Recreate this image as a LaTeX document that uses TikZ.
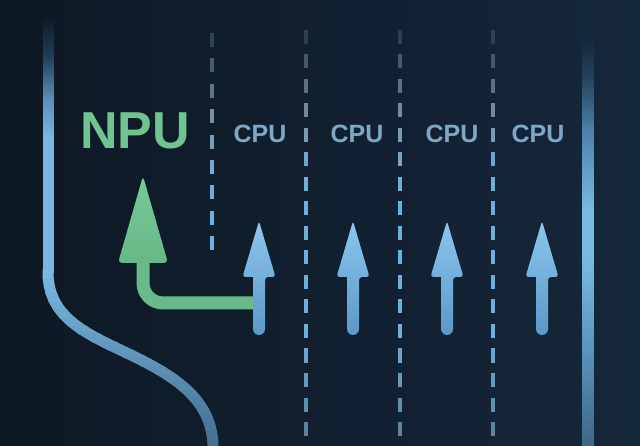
\documentclass[tikz,border=0pt]{standalone}
\usepackage{fontspec}
\newfontfamily\labelfont{Liberation Sans}
\definecolor{bgl}{HTML}{0D1823}
\definecolor{bgr}{HTML}{15273B}
\definecolor{bgm}{HTML}{112030}
\definecolor{lane}{HTML}{7AB8E2}
\definecolor{lanedim}{HTML}{466F90}
\definecolor{lanedimr}{HTML}{3E6786}
\definecolor{lanel2}{HTML}{22405A}
\definecolor{lanel3}{HTML}{5A90B9}
\definecolor{laner2}{HTML}{24425D}
\definecolor{laner3}{HTML}{4C80A9}
\definecolor{laner4}{HTML}{5E98C2}
\definecolor{npug}{HTML}{70C491}
\definecolor{npushaft}{HTML}{6AB98A}
\definecolor{npuhtop}{HTML}{76CB98}
\definecolor{npuhbot}{HTML}{68B887}
\definecolor{cpub}{HTML}{7EA8C8}
\definecolor{arrtop}{HTML}{8CC6EE}
\definecolor{arrbot}{HTML}{5C98C8}
\definecolor{dashblue}{HTML}{6DB0DE}
\definecolor{dashgray}{HTML}{7E93A6}
\tikzset{
  npulabel/.style={text=npug, inner sep=0pt, font=\labelfont\bfseries\fontsize{52}{52}\selectfont},
  cpulabel/.style={text=cpub, inner sep=0pt, font=\labelfont\bfseries\fontsize{25}{25}\selectfont},
  dashseg/.style={line width=3.5pt, line cap=butt},
  cpuarrowfill/.style={top color=arrtop, bottom color=arrbot},
  npuhead/.style={top color=npuhtop, bottom color=npuhbot, rounded corners=4pt},
  npushaftline/.style={draw=npushaft, line width=13pt, rounded corners=20pt},
  lanecurve/.style={line width=11pt, line cap=butt}
}
% solid strips blending colour #5 (top) into #6 (bottom)
\newcommand\lanepiece[6]{% x1, x2, ytop, ybottom, top colour, bottom colour
  \foreach \s in {0,...,19}{%
    \pgfmathsetmacro\ya{#3+(#4-#3)*\s/20}%
    \pgfmathsetmacro\yb{#3+(#4-#3)*(\s+1)/20+0.3}%
    \pgfmathsetmacro\pc{100*(\s+0.5)/20}%
    \fill[#6!\pc!#5] (#1,-\ya) rectangle (#2,-\yb);
  }}
\newcommand\dashcol[4]{% x, start, period, last index
  \foreach \k in {0,...,#4}{%
    \pgfmathsetmacro\ya{#2+#3*\k}%
    \pgfmathsetmacro\yb{\ya+14}%
    \pgfmathsetmacro\bb{\ya<115?0:(\ya<175?(\ya-115)/60*100:(\ya<320?100:max(40,100-(\ya-320)/126*60)))}%
    \pgfmathsetmacro\aa{min(min(100,25+(\ya-28)/85*75),100-max(0,(\ya-330)/116*30))}%
    \colorlet{dtmp}{dashblue!\bb!dashgray}%
    \draw[dashseg, draw=dtmp!\aa!bgm] (#1,-\ya) -- (#1,-\yb);
  }}
\newcommand\cpuarrow[1]{%
  \shade[cpuarrowfill] [rounded corners=3pt] (#1,-221) -- (#1+16.5,-277) -- (#1+6,-277) [sharp corners] -- (#1+6,-329)
    arc[start angle=0, end angle=-180, radius=6] -- (#1-6,-277) [rounded corners=3pt] -- (#1-16.5,-277) -- cycle;}
\begin{document}
\begin{tikzpicture}[x=1pt,y=1pt]
\useasboundingbox (0,0) rectangle (640,-446);
% background
\shade[left color=bgl, right color=bgr] (0,0) rectangle (640,-446);
% left lane (vertical part)
\lanepiece{42.5}{53.5}{17}{58}{bgl}{lanel2}
\lanepiece{42.5}{53.5}{58}{100}{lanel2}{lanel3}
\lanepiece{42.5}{53.5}{100}{140}{lanel3}{lane}
\fill[lane] (42.5,-139.8) rectangle (53.5,-273);
% left lane (curve) in colour bands
\foreach \k in {0,...,21}{%
  \pgfmathsetmacro\ya{270+8*\k}%
  \pgfmathsetmacro\yb{\ya+8.6}%
  \pgfmathsetmacro\pc{100-\k*100/21}%
  \begin{scope}
    \clip (0,-\ya) rectangle (640,-\yb);
    \draw[lanecurve, draw=lane!\pc!lanedim] (48,-262) -- (48,-272) .. controls (48,-320) and (90,-335) .. (133,-356)
      .. controls (176,-377) and (212,-400) .. (213,-446) -- (213,-455);
  \end{scope}
}
% right lane
\lanepiece{582}{594}{40}{78}{bgr}{laner2}
\lanepiece{582}{594}{78}{130}{laner2}{laner3}
\lanepiece{582}{594}{130}{210}{laner3}{lane}
\fill[lane] (582,-209.8) rectangle (594,-260.2);
\lanepiece{582}{594}{260}{340}{lane}{laner4}
\lanepiece{582}{594}{340}{446}{laner4}{lanedimr}
% dashed separators
\dashcol{212}{33}{25.4}{8}
\dashcol{306}{30}{24.5}{16}
\dashcol{400}{30}{24.5}{16}
\dashcol{493}{30}{24.5}{16}
% labels
\node[npulabel] (npu) at (135,-131) {NPU};
\node[cpulabel] (cpu1) at (260,-134) {CPU};
\node[cpulabel] (cpu2) at (357,-134) {CPU};
\node[cpulabel] (cpu3) at (452,-134) {CPU};
\node[cpulabel] (cpu4) at (538,-134) {CPU};
% NPU arrow
\coordinate (gbase) at (143,-262);
\coordinate (gcorner) at (143,-303);
\coordinate (gend) at (259,-303);
\draw[npushaftline] (gbase) -- (gcorner) -- (gend);
\shade[npuhead] (143,-176) -- (168,-263) -- (118,-263) -- cycle;
% CPU arrows
\cpuarrow{259}
\cpuarrow{353}
\cpuarrow{447}
\cpuarrow{542}
\end{tikzpicture}
\end{document}
